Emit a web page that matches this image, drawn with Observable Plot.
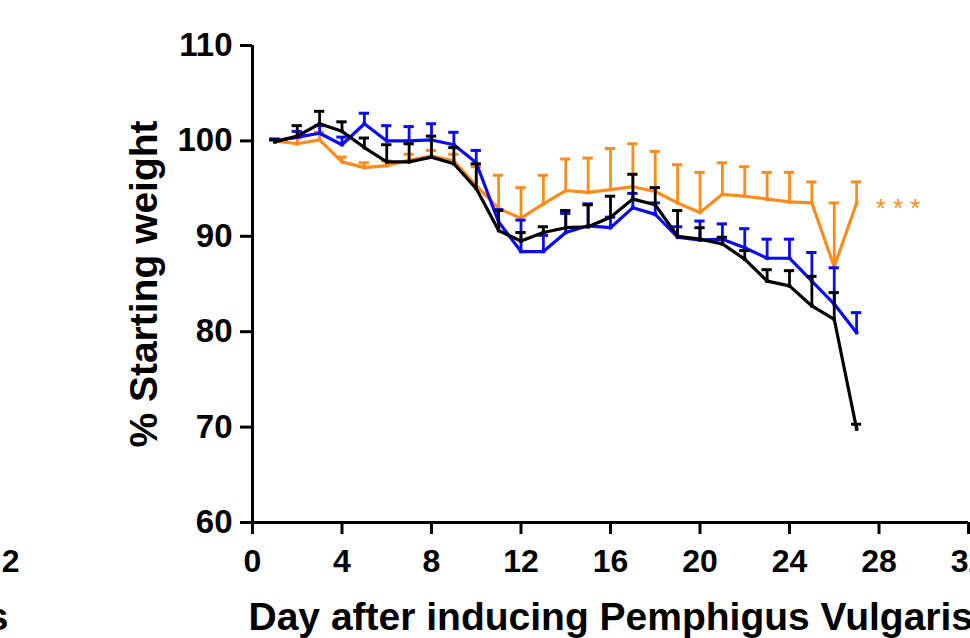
<!DOCTYPE html>
<html><head><meta charset="utf-8">
<script src="https://cdn.jsdelivr.net/npm/d3@7"></script>
<script src="https://cdn.jsdelivr.net/npm/@observablehq/plot@0.6"></script>
<style>
body{margin:0;background:#fff;overflow:hidden}
#chart{position:relative;width:970px;height:638px;overflow:hidden}
</style>
</head><body><div id="chart"></div>
<script>
const days = [1,2,3,4,5,6,7,8,9,10,11,12,13,14,15,16,17,18,19,20,21,22,23,24,25,26,27];

const orangeMean = [100.0,99.7,100.1,97.8,97.2,97.4,98.0,98.4,97.9,95.3,92.9,91.9,93.4,94.8,94.6,94.9,95.2,94.7,93.5,92.5,94.4,94.2,93.9,93.6,93.5,86.8,93.5];
const orangeSem  = [0.2,0.6,0.8,0.5,0.5,0.5,0.6,0.6,0.7,2.0,3.5,3.2,3.0,3.3,3.6,4.3,4.5,4.2,4.0,4.2,3.3,3.1,2.8,3.1,2.2,6.7,2.2];

const blueMean = [100.0,100.4,100.8,99.6,101.8,100.0,100.0,100.1,99.6,97.7,91.5,88.4,88.4,90.4,91.1,90.9,93.0,92.3,89.9,89.6,89.7,88.8,87.7,87.7,85.3,82.9,79.9];
const blueSem  = [0.2,0.6,0.8,0.8,1.1,1.6,1.5,1.7,1.3,1.3,1.3,3.3,1.7,2.0,2.3,1.1,1.5,1.2,1.1,2.0,1.6,2.0,2.0,2.0,3.0,3.8,2.1];

const blackMean = [99.9,100.5,101.8,101.0,99.3,97.8,97.8,98.3,97.6,95.0,90.6,89.5,90.4,90.9,91.0,92.0,93.9,93.3,90.0,89.7,89.2,87.6,85.3,84.8,82.7,81.3,69.8];
const blackSem  = [0.2,1.1,1.3,1.0,1.0,1.8,1.9,2.2,1.7,2.6,2.1,0.9,0.6,1.8,2.3,2.2,2.6,1.8,2.7,1.2,0.7,0.9,1.2,1.6,3.1,2.8,0.5];

const xTicks = [0,4,8,12,16,20,24,28,32];
const yTicks = [60,70,80,90,100,110];

const xLabel = "Day after inducing Pemphigus Vulgaris";
const yLabel = "% Starting weight";
const sigText = "* * *";
const neighbourTick = "2";
const neighbourLabel = "s";

const colors = {orange:"#FF8C1A", blue:"#0A0AF5", black:"#000000"};

function rows(means, sems){ return days.map((d,i)=>({day:d, mean:means[i], sem:sems[i]})); }
const series = [
  {key:"orange", data: rows(orangeMean, orangeSem)},
  {key:"blue", data: rows(blueMean, blueSem)},
  {key:"black", data: rows(blackMean, blackSem)}
];

const seriesMarks = series.flatMap(s => {
  const c = colors[s.key];
  return [
    Plot.ruleX(s.data, {x:"day", y1:"mean", y2:d=>d.mean+d.sem, stroke:c, strokeWidth:2.8}),
    Plot.ruleY(s.data, {y:d=>d.mean+d.sem, x1:d=>d.day-0.23, x2:d=>d.day+0.23, stroke:c, strokeWidth:3}),
    Plot.line(s.data, {x:"day", y:"mean", stroke:c, strokeWidth:3.2}),
    Plot.dot(s.data, {x:"day", y:"mean", symbol:"square", r:2, fill:c, stroke:null})
  ];
});

const last = series[0].data[series[0].data.length-1];

const chart = Plot.plot({
  width: 970,
  height: 638,
  marginLeft: 252,
  marginTop: 45,
  marginBottom: 116,
  marginRight: 2,
  style: {fontFamily: "'Liberation Sans', Arial, sans-serif", fontWeight: "bold", color: "#000", background: "#fff"},
  x: {domain: [0, 32]},
  y: {domain: [60, 110]},
  marks: [
    Plot.axisY({ticks: yTicks, tickSize: 12, tickPadding: 8, fontSize: 33, fontWeight: "bold", strokeWidth: 3, label: null}),
    Plot.axisX({ticks: xTicks, tickSize: 12, tickPadding: 15, fontSize: 32, fontWeight: "bold", strokeWidth: 3, label: null}),
    Plot.ruleX([0], {stroke:"#000", strokeWidth:3}),
    Plot.ruleY([60], {stroke:"#000", strokeWidth:3}),
    ...seriesMarks,
    Plot.text([last], {x:"day", y:"mean", text:()=>sigText, textAnchor:"start", dx:19, dy:6, fill:colors.orange, fontSize:26, fontWeight:"normal"}),
    Plot.text([yLabel], {frameAnchor:"left", textAnchor:"middle", rotate:-90, dx:-108, fontSize:39, fontWeight:"bold", fill:"#000"}),
    Plot.text([xLabel], {frameAnchor:"bottom-left", textAnchor:"start", dx:-4, dy:107, fontSize:39, fontWeight:"bold", fill:"#000"}),
    Plot.text([neighbourTick], {frameAnchor:"bottom-left", textAnchor:"end", lineAnchor:"top", dx:-233, dy:27, fontSize:32, fontWeight:"bold", fill:"#000"}),
    Plot.text([neighbourLabel], {frameAnchor:"bottom-left", textAnchor:"end", dx:-244, dy:107, fontSize:39, fontWeight:"bold", fill:"#000"})
  ]
});
document.getElementById("chart").appendChild(chart);
</script></body></html>
